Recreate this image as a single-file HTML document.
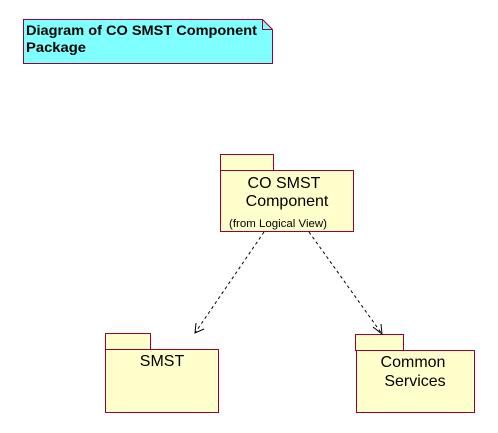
<!DOCTYPE html>
<html><head><style>body{margin:0;background:#fff}svg{display:block}</style></head><body>
<svg width="498" height="433" xmlns="http://www.w3.org/2000/svg" font-family="Liberation Sans, sans-serif">
<path d="M23.5 19.5H262.5L272.5 29.5V63.5H23.5Z" fill="#80ffff" stroke="#990033"/>
<path d="M262.5 19.5V29.5H272.5" fill="none" stroke="#990033"/>
<text x="26" y="35" font-size="13.5" font-weight="bold" textLength="231" lengthAdjust="spacingAndGlyphs">Diagram of CO SMST Component</text>
<text x="26" y="52" font-size="13.5" font-weight="bold" textLength="60" lengthAdjust="spacingAndGlyphs">Package</text>
<g fill="#ffffcc" stroke="#990033">
<rect x="220.5" y="154.5" width="53" height="16"/>
<rect x="220.5" y="170.5" width="133" height="61"/>
<rect x="105.5" y="333.5" width="45" height="16"/>
<rect x="105.5" y="349.5" width="113" height="63"/>
<rect x="355.5" y="334.5" width="48" height="16"/>
<rect x="356.5" y="350.5" width="118" height="62"/>
</g>
<g font-size="16" text-anchor="middle">
<text x="284" y="188">CO SMST</text>
<text x="287" y="206">Component</text>
<text x="162" y="366">SMST</text>
<text x="413" y="367">Common</text>
<text x="415" y="386">Services</text>
</g>
<text x="229" y="227" font-size="11" textLength="98" lengthAdjust="spacingAndGlyphs">(from Logical View)</text>
<g stroke="#000" fill="none">
<path d="M264 232L195 333" stroke-dasharray="3,3"/>
<path d="M309 232L382 334" stroke-dasharray="3,3"/>
<path d="M196 323L195 333L204 329"/>
<path d="M373 327L382 334L381 324"/>
</g>
</svg>
</body></html>
